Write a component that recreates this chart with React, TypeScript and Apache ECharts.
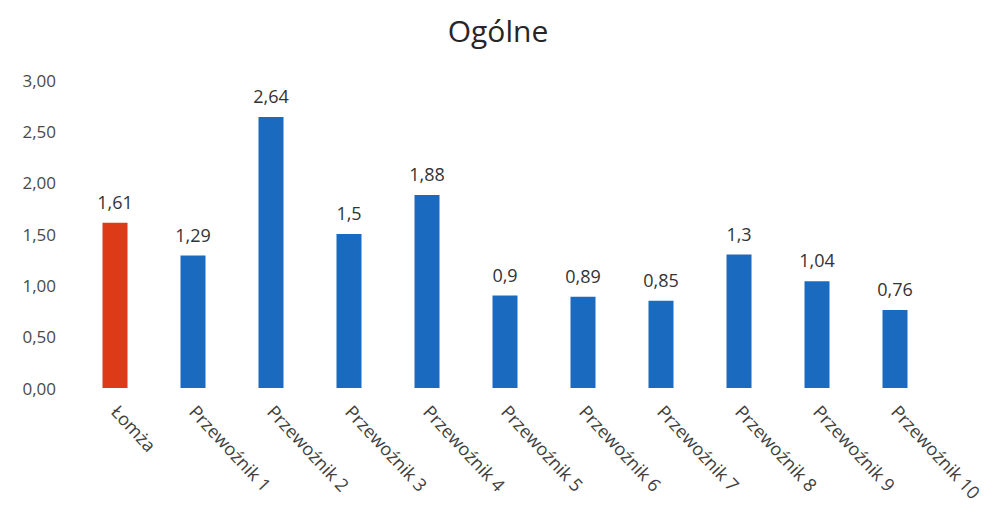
import React, { useEffect, useRef } from "react";
import * as echarts from "echarts";

const categories = [
  "Łomża",
  "Przewoźnik 1",
  "Przewoźnik 2",
  "Przewoźnik 3",
  "Przewoźnik 4",
  "Przewoźnik 5",
  "Przewoźnik 6",
  "Przewoźnik 7",
  "Przewoźnik 8",
  "Przewoźnik 9",
  "Przewoźnik 10",
];
const values = [1.61, 1.29, 2.64, 1.5, 1.88, 0.9, 0.89, 0.85, 1.3, 1.04, 0.76];
const highlightIndex = 0;

const FONT = "Open Sans";

export default function App() {
  const ref = useRef<HTMLDivElement>(null);
  useEffect(() => {
    if (!ref.current) return;
    const chart = echarts.init(ref.current, undefined, { renderer: "svg" });
    chart.setOption({
      animation: false,
      title: {
        text: "Ogólne",
        left: "center",
        top: 2,
        textStyle: { fontFamily: FONT, fontSize: 30, fontWeight: "normal", color: "#262626" },
      },
      grid: { left: 68, right: 54, top: 72, bottom: 126, containLabel: false },
      xAxis: {
        type: "category",
        data: categories,
        axisLine: { show: false },
        axisTick: { show: false },
        axisLabel: {
          rotate: -47,
          interval: 0,
          margin: 20,
          fontFamily: FONT,
          fontSize: 18,
          color: "#404040",
        },
      },
      yAxis: {
        type: "value",
        min: 0,
        max: 3,
        interval: 0.5,
        splitLine: { show: false },
        axisLine: { show: false },
        axisTick: { show: false },
        axisLabel: {
          fontFamily: FONT,
          fontSize: 17,
          color: "#4a4a4a",
          margin: 20,
          formatter: (v: number) => v.toFixed(2).replace(".", ","),
        },
      },
      series: [
        {
          type: "bar",
          barWidth: 25,
          data: values.map((v, i) => ({
            value: v,
            itemStyle: { color: i === highlightIndex ? "#DD3A17" : "#1A6BC0" },
          })),
          label: {
            show: true,
            position: "top",
            distance: 12,
            fontFamily: FONT,
            fontSize: 18,
            color: "#333333",
            formatter: (p: any) => String(p.value).replace(".", ","),
          },
        },
      ],
    });
    return () => chart.dispose();
  }, []);
  return <div ref={ref} style={{ width: 980, height: 506 }} />;
}
